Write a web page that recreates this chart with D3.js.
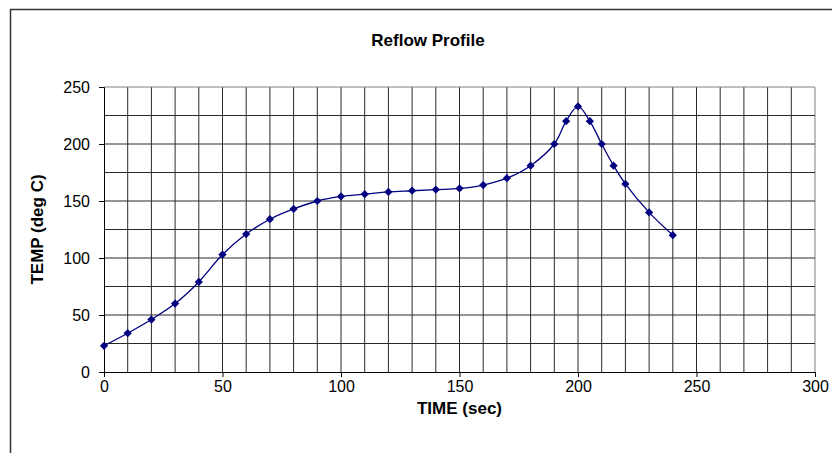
<!DOCTYPE html>
<html>
<head>
<meta charset="utf-8">
<script src="https://cdn.jsdelivr.net/npm/d3@7"></script>
<style>
  body { margin: 0; background: #fff; }
  svg { display: block; font-family: "Liberation Sans", Arial, sans-serif; }
</style>
</head>
<body>
<div id="chart"></div>
<script>
// reflow profile readings
const times = [0, 10, 20, 30, 40, 50, 60, 70, 80, 90, 100, 110, 120, 130, 140, 150,
  160, 170, 180, 190, 195, 200, 205, 210, 215, 220, 230, 240];
const temps = [23, 34, 46, 60, 79, 103, 121, 134, 143, 150, 154, 156, 158, 159, 160, 161,
  164, 170, 181, 200, 220, 233, 220, 200, 181, 165, 140, 120];
const xTicks = [0, 50, 100, 150, 200, 250, 300];
const yTicks = [0, 50, 100, 150, 200, 250];

const svgWidth = 832;
const svgHeight = 453;
const margin = { top: 87, right: 17, bottom: 81, left: 104 };
const width = svgWidth - margin.left - margin.right;
const height = svgHeight - margin.top - margin.bottom;

const svg = d3.select("#chart")
  .append("svg")
  .attr("width", svgWidth)
  .attr("height", svgHeight);

// chart frame (only top and left edges show)
svg.append("rect")
  .attr("x", 10.5)
  .attr("y", 9.5)
  .attr("width", svgWidth + 20)
  .attr("height", svgHeight + 20)
  .attr("fill", "none")
  .attr("stroke", "#333")
  .attr("stroke-width", 1.5);

const g = svg.append("g")
  .attr("transform", `translate(${margin.left},${margin.top})`);

const x = d3.scaleLinear().domain([0, 300]).range([0, width]);
const y = d3.scaleLinear().domain([0, 250]).range([height, 0]);

// grid
g.append("g")
  .selectAll("line")
  .data(d3.range(10, 301, 10))
  .join("line")
  .attr("x1", (d) => x(d))
  .attr("x2", (d) => x(d))
  .attr("y1", 0)
  .attr("y2", height)
  .attr("stroke", (d) => (d === 300 ? "#808080" : "#2a2a2a"))
  .attr("stroke-width", 1);

g.append("g")
  .selectAll("line")
  .data(d3.range(25, 251, 25))
  .join("line")
  .attr("x1", 0)
  .attr("x2", width)
  .attr("y1", (d) => y(d))
  .attr("y2", (d) => y(d))
  .attr("stroke", (d) => (d === 250 ? "#808080" : "#2a2a2a"))
  .attr("stroke-width", 1);

// axes
const xAxis = g.append("g")
  .attr("transform", `translate(0,${height})`)
  .call(d3.axisBottom(x).tickValues(xTicks).tickSize(5).tickPadding(4));

const yAxis = g.append("g")
  .call(d3.axisLeft(y).tickValues(yTicks).tickSize(5).tickPadding(9));

[xAxis, yAxis].forEach((a) => {
  a.select(".domain").attr("stroke", "#000");
  a.selectAll(".tick line").attr("stroke", "#000");
  a.selectAll(".tick text")
    .attr("fill", "#000")
    .style("font-size", "16px")
    .style("font-family", '"Liberation Sans", Arial, sans-serif');
});

// series
const pts = times.map((t, i) => ({ t: t, v: temps[i] }));

const line = d3.line()
  .x((d) => x(d.t))
  .y((d) => y(d.v))
  .curve(d3.curveCatmullRom.alpha(0.5));

g.append("path")
  .datum(pts)
  .attr("fill", "none")
  .attr("stroke", "#000080")
  .attr("stroke-width", 1.3)
  .attr("d", line);

const diamond = d3.symbol().type(d3.symbolSquare).size(34);
g.append("g")
  .selectAll("path")
  .data(pts)
  .join("path")
  .attr("d", diamond)
  .attr("transform", (d) => `translate(${x(d.t)},${y(d.v)}) rotate(45)`)
  .attr("fill", "#000080");

// titles
svg.append("text")
  .attr("x", 428)
  .attr("y", 46)
  .attr("text-anchor", "middle")
  .attr("font-weight", "bold")
  .attr("font-size", "17px")
  .text("Reflow Profile");

svg.append("text")
  .attr("x", margin.left + width / 2)
  .attr("y", 414)
  .attr("text-anchor", "middle")
  .attr("font-weight", "bold")
  .attr("font-size", "17px")
  .text("TIME (sec)");

svg.append("text")
  .attr("transform", `translate(43,${margin.top + height / 2}) rotate(-90)`)
  .attr("text-anchor", "middle")
  .attr("font-weight", "bold")
  .attr("font-size", "17px")
  .text("TEMP (deg C)");
</script>
</body>
</html>
